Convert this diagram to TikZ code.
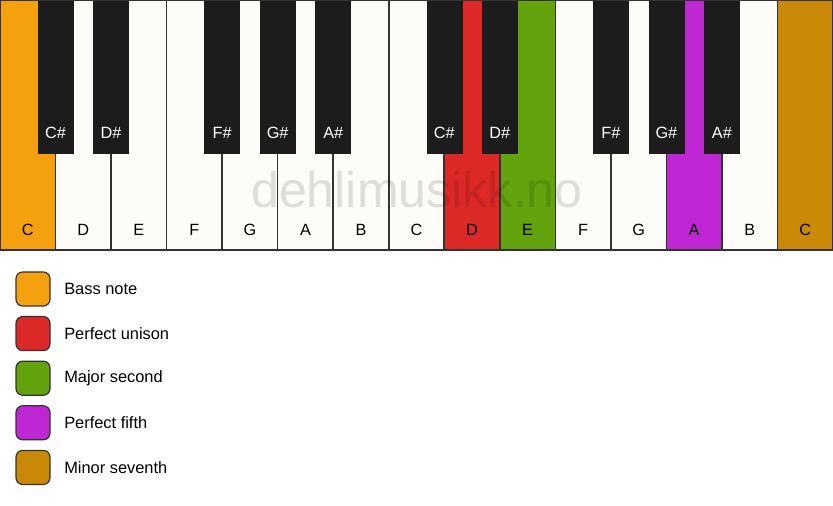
\documentclass[tikz,border=0pt]{standalone}
\usepackage{fontspec}
\setmainfont{Liberation Sans}
\usepackage{tikz}

\definecolor{ivory}{HTML}{FDFCF8}
\definecolor{keyblack}{HTML}{1C1C1C}
\definecolor{keyline}{HTML}{333333}
\definecolor{bassorange}{HTML}{F4A00F}
\definecolor{unisonred}{HTML}{DD2828}
\definecolor{secondgreen}{HTML}{62A30E}
\definecolor{fifthpurple}{HTML}{C027D4}
\definecolor{seventhgold}{HTML}{C98805}

\tikzset{
  whitekey/.style={draw=keyline,line width=1.2pt},
  blackkey/.style={fill=keyblack,draw=keyblack},
  keylabel/.style={font=\fontsize{12.2}{14}\selectfont,inner sep=0pt},
  swatch/.style={draw=keyline,line width=0.9pt,rounded corners=5pt,minimum width=25.5pt,minimum height=25.5pt,inner sep=0pt},
  legendtext/.style={font=\fontsize{12.3}{14}\selectfont,anchor=west,inner sep=0pt}
}

\begin{document}
\begin{tikzpicture}[x=0.75pt,y=-0.75pt]
  \useasboundingbox (0,0) rectangle (833,506);
  \fill[white] (0,0) rectangle (833,506);
  % white keys
  \foreach \lab/\col [count=\i from 0] in {C/bassorange,D/ivory,E/ivory,F/ivory,G/ivory,A/ivory,B/ivory,
      C/ivory,D/unisonred,E/secondgreen,F/ivory,G/ivory,A/fifthpurple,B/ivory,C/seventhgold}{
    \draw[whitekey,fill=\col] (\i*55.533,0) rectangle (\i*55.533+55.533,250);
    \node[keylabel] (w\i) at (\i*55.533+27.77,230) {\lab};
  }
  % watermark
  \node[font=\fontsize{37.6}{40}\selectfont,text=black,text opacity=0.12,anchor=base,inner sep=0pt] (mark) at (417,208) {dehlimusikk.no};
  % black keys
  \foreach \lab/\k [count=\j] in {C\#/1,D\#/2,F\#/4,G\#/5,A\#/6,C\#/8,D\#/9,F\#/11,G\#/12,A\#/13}{
    \fill[blackkey] (\k*55.533-17.5,0) rectangle (\k*55.533+17.5,153);
    \node[keylabel,text=white] (b\j) at (\k*55.533,133) {\lab};
  }
  \draw[keyline,line width=0.9pt] (0,0) rectangle (833,250);
  % legend
  \foreach \txt/\col [count=\r from 0] in {Bass note/bassorange,Perfect unison/unisonred,Major second/secondgreen,
      Perfect fifth/fifthpurple,Minor seventh/seventhgold}{
    \node[swatch,fill=\col] (s\r) at (33,289+\r*44.6) {};
    \node[legendtext] (t\r) at (64,289+\r*44.6) {\txt};
  }
\end{tikzpicture}
\end{document}
